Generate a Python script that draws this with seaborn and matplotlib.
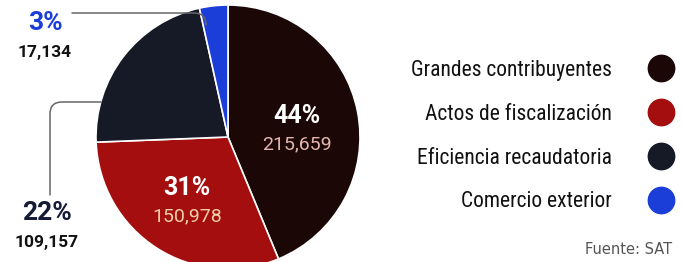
import seaborn as sns
import matplotlib.pyplot as plt
from matplotlib.lines import Line2D

categorias = ["Grandes contribuyentes", "Actos de fiscalización",
              "Eficiencia recaudatoria", "Comercio exterior"]
valores = [215659, 150978, 109157, 17134]
porcentajes = ["44%", "31%", "22%", "3%"]
colores = ["#1c0707", "#a50e0e", "#151a26", "#1c3ed8"]

W, H = 682, 262
CX, CY, R = 228, 137, 132
CONDENSADA = ["Roboto Condensed", "Roboto", "DejaVu Sans"]
NORMAL = ["Roboto", "DejaVu Sans"]


def pd(px, py):
    # pixel de la figura (origen arriba-izquierda) -> coordenadas del pastel
    return (px - CX) / R, (CY - py) / R


def main():
    sns.set_theme(style="white")
    fig = plt.figure(figsize=(W / 100, H / 100), dpi=100)
    ax = fig.add_axes([(CX - R) / W, (H - CY - R) / H, 2 * R / W, 2 * R / H])
    ax.pie(valores, colors=colores, startangle=90, counterclock=False,
           radius=1, wedgeprops=dict(edgecolor="white", linewidth=1.2))
    ax.set_xlim(-1, 1)
    ax.set_ylim(-1, 1)
    ax.set_aspect("equal")
    ax.axis("off")

    # etiquetas internas (posicion de la linea base)
    for (px, py), pct, val, c2 in [((297, 123), porcentajes[0], valores[0], "#e2b6ad"),
                                   ((187, 195), porcentajes[1], valores[1], "#f2cfa6")]:
        x, y = pd(px, py)
        ax.text(x, y, pct, color="white", fontsize=18, fontweight="bold",
                ha="center", va="baseline", family=NORMAL)
        x, y = pd(px, py + 26)
        ax.text(x, y, f"{val:,}", color=c2, fontsize=14,
                ha="center", va="baseline", family=NORMAL)

    # etiquetas externas
    for (px, py), pct, val, col, fs in [((45, 30), porcentajes[3], valores[3], colores[3], 19),
                                        ((47, 220), porcentajes[2], valores[2], "#151a36", 19)]:
        x, y = pd(px, py)
        ax.text(x, y, pct, color=col, fontsize=fs, fontweight="bold",
                ha="center", va="baseline", family=NORMAL, clip_on=False)
        x, y = pd(px, py + 27)
        ax.text(x, y, f"{val:,}", color="#111111", fontsize=12.5, fontweight="bold",
                ha="center", va="baseline", family=NORMAL, clip_on=False)

    # lineas guia
    ax.annotate("", xy=pd(206, 24), xytext=pd(72, 13), annotation_clip=False,
                arrowprops=dict(arrowstyle="-", color="#666666", lw=1.1,
                                connectionstyle="angle,angleA=0,angleB=90,rad=12",
                                shrinkA=0, shrinkB=0))
    ax.annotate("", xy=pd(101, 102), xytext=pd(50, 195), annotation_clip=False,
                arrowprops=dict(arrowstyle="-", color="#666666", lw=1.1,
                                connectionstyle="angle,angleA=90,angleB=0,rad=12",
                                shrinkA=0, shrinkB=0))

    # leyenda
    handles = [Line2D([], [], marker="o", linestyle="", markersize=19,
                      markerfacecolor=c, markeredgecolor=c) for c in colores]
    leg = fig.legend(handles, categorias, markerfirst=False, frameon=False,
                     loc="upper right", bbox_to_anchor=(673 / W, 1 - 60 / H),
                     labelspacing=1.06, handletextpad=1.67, handlelength=1.16,
                     borderaxespad=0, borderpad=0,
                     prop=dict(family=CONDENSADA, size=15.5))
    for t in leg.get_texts():
        t.set_color("#111111")

    fig.text(672 / W, 1 - 250 / H, "Fuente: SAT", ha="right", va="center",
             fontsize=10.5, color="#555555", family=["DejaVu Sans"])

    fig.savefig("out.png", dpi=100)


if __name__ == "__main__":
    main()
